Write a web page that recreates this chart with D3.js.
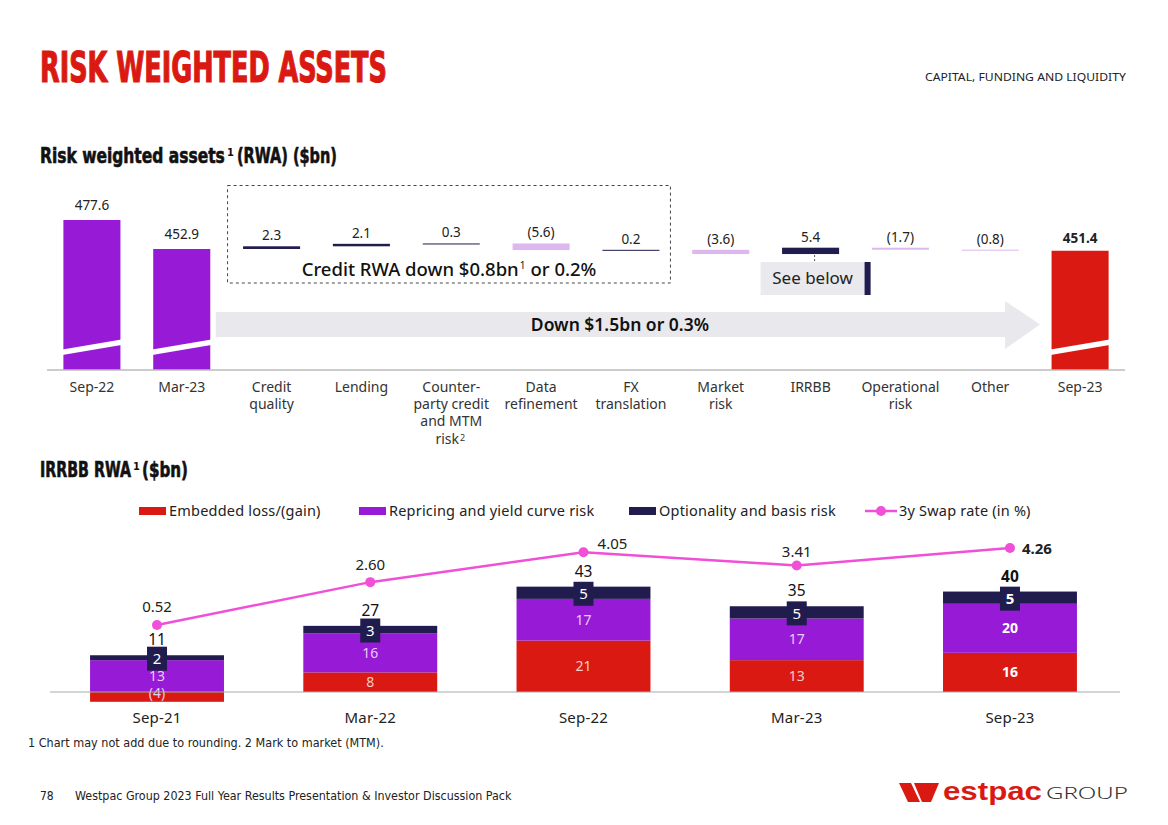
<!DOCTYPE html>
<html><head><meta charset="utf-8">
<script src="https://cdn.jsdelivr.net/npm/d3@7/dist/d3.min.js"></script>
<style>body{margin:0;background:#fff}</style>
</head><body>
<svg id="c" width="1168" height="825"></svg>
<script>
// ---------- DATA ----------
const topCategories = ["Sep-22","Mar-23","Credit quality","Lending","Counterparty credit and MTM risk","Data refinement","FX translation","Market risk","IRRBB","Operational risk","Other","Sep-23"];
const topCatLines = [["Sep-22"],["Mar-23"],["Credit","quality"],["Lending"],["Counter-","party credit","and MTM","risk|2"],["Data","refinement"],["FX","translation"],["Market","risk"],["IRRBB"],["Operational","risk"],["Other"],["Sep-23"]];
const topValues = [477.6, 452.9, 2.3, 2.1, 0.3, -5.6, 0.2, -3.6, 5.4, -1.7, -0.8, 451.4];
const topKinds = ["total","total","delta","delta","delta","delta","delta","delta","delta","delta","delta","total"];

const irrCategories = ["Sep-21","Mar-22","Sep-22","Mar-23","Sep-23"];
const embeddedLoss = [-4, 8, 21, 13, 16];
const repricingRisk = [13, 16, 17, 17, 20];
const optionalityRisk = [2, 3, 5, 5, 5];
const irrTotals = [11, 27, 43, 35, 40];
const swapRate = [0.52, 2.60, 4.05, 3.41, 4.26];
const legendLabels = ["Embedded loss/(gain)","Repricing and yield curve risk","Optionality and basis risk","3y Swap rate (in %)"];

// ---------- STYLE ----------
const F = "'Noto Sans', sans-serif";
const FC = "'Liberation Sans Narrow','DejaVu Sans Condensed','Liberation Sans',sans-serif";
const RED = "#da1a12", PURPLE = "#961ad6", NAVY = "#211c4e", LAV = "#dcb8ef", PINK = "#f04fd8";

const svg = d3.select("#c");

// text fitted to a target width by horizontal scaling (keeps bbox honest)
function fitText(x, y, str, target, o){
  const t = svg.append("text").attr("x",0).attr("y",0).attr("font-family",o.family)
    .attr("font-size",o.size).attr("font-weight",o.weight||400).attr("fill",o.fill||"#111").text(str);
  if (o.stroke) t.attr("stroke",o.fill).attr("stroke-width",o.stroke);
  const w = t.node().getComputedTextLength();
  const sx = target ? target / w : 1;
  t.attr("transform",`translate(${x},${y}) scale(${sx},1)`);
  return {node:t, width: w*sx};
}

// ---------- HEADER ----------
fitText(40, 82, "RISK WEIGHTED ASSETS", 347, {family:FC, weight:700, size:42, fill:RED, stroke:1.2});
fitText(925, 81, "CAPITAL, FUNDING AND LIQUIDITY", 201, {family:F, size:11, fill:"#222"});

const subO = {family:FC, weight:700, size:21, fill:"#111", stroke:0.6};
const supO = {family:FC, weight:700, size:11, fill:"#111"};
fitText(40, 163, "Risk weighted assets", 185, subO);
fitText(227, 156, "1", 0, supO);
fitText(237, 163, "(RWA) ($bn)", 100, subO);
fitText(40, 477, "IRRBB RWA", 91, subO);
fitText(133, 470, "1", 0, supO);
fitText(142, 477, "($bn)", 46, subO);

// ---------- TOP WATERFALL ----------
const baseTop = 370;
const yTop = d3.scaleLinear().domain([349.8, 477.6]).range([baseTop, 220]);
const xTop = d3.scaleBand().domain(topCategories).range([47,1125]).paddingInner(0.365).paddingOuter(0.1825);
const bw = xTop.bandwidth();

// arrow
const arrL = xTop("Mar-23") + bw + 5.5, arrTip = xTop("Sep-23") - 11.5, headL = arrTip - 35;
svg.append("polygon").attr("fill","#e8e8ed")
  .attr("points",[[arrL,312],[headL,312],[headL,301],[arrTip,324.5],[headL,349],[headL,337],[arrL,337]].map(p=>p.join(",")).join(" "));
svg.append("text").attr("x",(arrL+arrTip)/2 - 8).attr("y",331).attr("text-anchor","middle").attr("font-family",F)
  .attr("font-weight",600).attr("font-size",17.5).attr("fill","#111").text("Down $1.5bn or 0.3%");

// dashed box
const boxL = xTop("Credit quality") - 15.5, boxR = xTop("FX translation") + bw + 11;
svg.append("rect").attr("x",boxL).attr("y",185.5).attr("width",boxR-boxL).attr("height",97.5)
  .attr("fill","none").attr("stroke","#444").attr("stroke-dasharray","3,3");
{
  const o = {family:F, weight:500, size:18.5, fill:"#111"};
  const a = fitText(0, 276, "Credit RWA down $0.8bn", 0, o);
  const s = fitText(0, 269, "1", 0, {family:F, size:10, fill:"#111"});
  const b = fitText(0, 276, "or 0.2%", 0, o);
  const total = a.width + 1 + s.width + 5 + b.width;
  let x0 = (boxL+boxR)/2 - total/2;
  a.node.attr("transform",`translate(${x0},276)`);
  s.node.attr("transform",`translate(${x0 + a.width + 1},269)`);
  b.node.attr("transform",`translate(${x0 + a.width + 1 + s.width + 5},276)`);
}

// see below
{
  const cx = xTop("IRRBB") + bw/2;
  svg.append("rect").attr("x",cx-50).attr("y",262).attr("width",110).attr("height",33).attr("fill","#e9e9ee");
  svg.append("rect").attr("x",cx+54).attr("y",262).attr("width",6).attr("height",33).attr("fill",NAVY);
  svg.append("text").attr("x",cx+2).attr("y",284).attr("text-anchor","middle").attr("font-family",F)
    .attr("font-size",17).attr("fill","#222").text("See below");
}

let running = 0;
const marks = topValues.map((v,i)=>{
  if (topKinds[i]==="total"){ running = v; return {i, v, kind:"total", lo:yTop.domain()[0], hi:v}; }
  const s = running; running = s + v;
  return {i, v, kind:"delta", lo:Math.min(s,running), hi:Math.max(s,running)};
});

marks.forEach(m=>{
  const x = xTop(topCategories[m.i]);
  const yHi = yTop(m.hi), yLo = yTop(m.lo);
  if (m.kind==="total"){
    const col = m.i===topValues.length-1 ? RED : PURPLE;
    svg.append("rect").attr("x",x).attr("y",yHi).attr("width",bw).attr("height",yLo-yHi).attr("fill",col);
    svg.append("polygon").attr("fill","#fff")
      .attr("points",[[x-1,baseTop-20.5],[x+bw+1,baseTop-30.5],[x+bw+1,baseTop-25],[x-1,baseTop-15]].map(p=>p.join(",")).join(" "));
    svg.append("text").attr("x",x+bw/2).attr("y",yHi-(m.i===topValues.length-1?8:10)).attr("text-anchor","middle")
      .attr("font-family",F).attr("font-size",13.5).attr("font-weight",m.i===topValues.length-1?700:400)
      .attr("fill","#222").text(m.v.toFixed(1));
  } else {
    const h = Math.max(1, yLo-yHi);
    svg.append("rect").attr("x",x).attr("y",yHi).attr("width",bw).attr("height",h)
      .attr("fill", m.v>0 ? NAVY : LAV);
    svg.append("text").attr("x",x+bw/2).attr("y",yHi-6).attr("text-anchor","middle")
      .attr("font-family",F).attr("font-size",13.5).attr("fill","#222")
      .text(m.v<0 ? "("+Math.abs(m.v).toFixed(1)+")" : m.v.toFixed(1));
  }
});
{
  const cx = xTop("IRRBB") + bw/2 + 4;
  const irr = marks[topCategories.indexOf("IRRBB")];
  svg.append("line").attr("x1",cx).attr("x2",cx).attr("y1",yTop(irr.lo)+1).attr("y2",262)
    .attr("stroke","#555").attr("stroke-dasharray","2,2");
}
svg.append("line").attr("x1",47).attr("x2",1125).attr("y1",baseTop).attr("y2",baseTop).attr("stroke","#bbb").attr("stroke-width",1.5);

topCatLines.forEach((lines,i)=>{
  const cx = xTop(topCategories[i]) + bw/2;
  lines.forEach((ln,j)=>{
    const parts = ln.split("|");
    const y = 392 + j*17 + (parts[1] ? 1 : 0);
    const t = svg.append("text").attr("x",cx).attr("y",y).attr("text-anchor","middle").attr("font-family",F)
      .attr("font-size",14).attr("fill","#333").text(parts[0]);
    if (parts[1]) {
      const w = t.node().getComputedTextLength();
      t.attr("x", cx - 4);
      svg.append("text").attr("x",cx - 4 + w/2 + 1).attr("y",y-3).attr("font-family",F)
        .attr("font-size",9).attr("fill","#333").text(parts[1]);
    }
  });
});

// ---------- BOTTOM IRRBB ----------
const baseB = 692;
const xB = d3.scaleBand().domain(irrCategories).range([50.4,1116.6]).paddingInner(0.372).paddingOuter(0.186);
const bwB = xB.bandwidth();
const yB = d3.scaleLinear().domain([0,45]).range([baseB, baseB-45*2.45]);
const ySw = d3.scaleLinear().domain([0,5]).range([635.7,532.7]);

{
  const ly = 511;
  const items = [[139,RED],[359,PURPLE],[629,NAVY]];
  items.forEach((it,k)=>{
    svg.append("rect").attr("x",it[0]).attr("y",ly-4).attr("width",27).attr("height",8).attr("fill",it[1]);
    svg.append("text").attr("x",it[0]+30).attr("y",ly+5).attr("font-family",F).attr("font-size",14.5)
      .attr("letter-spacing",0.2).attr("fill","#222").text(legendLabels[k]);
  });
  svg.append("line").attr("x1",865).attr("x2",897).attr("y1",ly).attr("y2",ly).attr("stroke",PINK).attr("stroke-width",2.5);
  svg.append("circle").attr("cx",881).attr("cy",ly).attr("r",5).attr("fill",PINK);
  svg.append("text").attr("x",899).attr("y",ly+5).attr("font-family",F).attr("font-size",14.5)
    .attr("letter-spacing",0.2).attr("fill","#222").text(legendLabels[3]);
}

irrCategories.forEach((c,i)=>{
  const x = xB(c), cx = x + bwB/2;
  const last = i===irrCategories.length-1;
  const e = embeddedLoss[i], r = repricingRisk[i], o = optionalityRisk[i];
  const rBase = Math.max(0,e), rTop = rBase + r, oTop = rTop + o;
  const ry0 = yB(Math.max(0,e)), ry1 = yB(Math.min(0,e));
  svg.append("rect").attr("x",x).attr("y",ry0).attr("width",bwB).attr("height",ry1-ry0).attr("fill",RED);
  svg.append("rect").attr("x",x).attr("y",yB(rTop)).attr("width",bwB).attr("height",yB(rBase)-yB(rTop)).attr("fill",PURPLE);
  svg.append("rect").attr("x",x).attr("y",yB(oTop)).attr("width",bwB).attr("height",yB(rTop)-yB(oTop)).attr("fill",NAVY);
  const lw = last?700:400;
  svg.append("text").attr("x",cx).attr("y",(ry0+ry1)/2 + (e<0?1:5)).attr("text-anchor","middle").attr("font-family",F)
    .attr("font-size",14).attr("font-weight",lw).attr("fill",last?"#fff":(e<0?"#e8c9f5":"#f7cdc8"))
    .text(e<0?"("+Math.abs(e)+")":e);
  svg.append("text").attr("x",cx).attr("y",(yB(rBase)+yB(rTop))/2+5).attr("text-anchor","middle").attr("font-family",F)
    .attr("font-size",14).attr("font-weight",lw).attr("fill",last?"#fff":"#e8cdf8").text(r);
  const om = (yB(rTop)+yB(oTop))/2 + 1;
  svg.append("rect").attr("x",cx-10).attr("y",om-12).attr("width",20).attr("height",24).attr("fill",NAVY);
  svg.append("text").attr("x",cx).attr("y",om+5.5).attr("text-anchor","middle").attr("font-family",F)
    .attr("font-size",15).attr("font-weight",last?700:400).attr("fill","#fff").text(o);
  svg.append("text").attr("x",cx).attr("y",yB(oTop)-10).attr("text-anchor","middle").attr("font-family",F)
    .attr("font-size",15.5).attr("font-weight",lw).attr("fill","#111").text(irrTotals[i]);
  svg.append("text").attr("x",cx).attr("y",723).attr("text-anchor","middle").attr("font-family",F)
    .attr("font-size",15).attr("letter-spacing",0.2).attr("fill","#222").text(c);
});
svg.append("line").attr("x1",50).attr("x2",1120).attr("y1",baseB).attr("y2",baseB).attr("stroke","#aaa").attr("stroke-width",1.2);

const line = d3.line().x((d,i)=>xB(irrCategories[i])+bwB/2).y(d=>ySw(d));
svg.append("path").datum(swapRate).attr("d",line).attr("fill","none").attr("stroke",PINK).attr("stroke-width",2.5);
swapRate.forEach((v,i)=>{
  const cx = xB(irrCategories[i])+bwB/2, cy = ySw(v);
  svg.append("circle").attr("cx",cx).attr("cy",cy).attr("r",5).attr("fill",PINK);
  const last = i===swapRate.length-1;
  let tx = cx, ty = cy-13, anchor = "middle";
  if (i===2){ tx = cx+29; ty = cy-3; }
  if (i===1){ ty = cy-12; }
  if (i===3){ ty = cy-8; }
  if (last){ tx = cx+12; ty = cy+6; anchor = "start"; }
  svg.append("text").attr("x",tx).attr("y",ty).attr("text-anchor",anchor).attr("font-family",F)
    .attr("font-size",15).attr("font-weight",last?700:400).attr("fill","#222").text(v.toFixed(2));
});

// ---------- FOOTER ----------
fitText(28, 747, "1 Chart may not add due to rounding. 2 Mark to market (MTM).", 356, {family:FC, size:12, fill:"#222"});
fitText(40, 800, "78", 0, {family:FC, size:12, fill:"#222"});
fitText(75, 800, "Westpac Group 2023 Full Year Results Presentation & Investor Discussion Pack", 437, {family:FC, size:12, fill:"#222"});
svg.append("polygon").attr("fill",RED).attr("points","899,783 911,783 920,802 908,802");
svg.append("polygon").attr("fill",RED).attr("points","914,783 939,783 931,802 922,802");
fitText(943, 800, "estpac", 99, {family:"'Liberation Sans',sans-serif", weight:700, size:26, fill:RED});
fitText(1046, 799, "GROUP", 82, {family:F, weight:300, size:16.5, fill:"#333"});
</script>
</body></html>
